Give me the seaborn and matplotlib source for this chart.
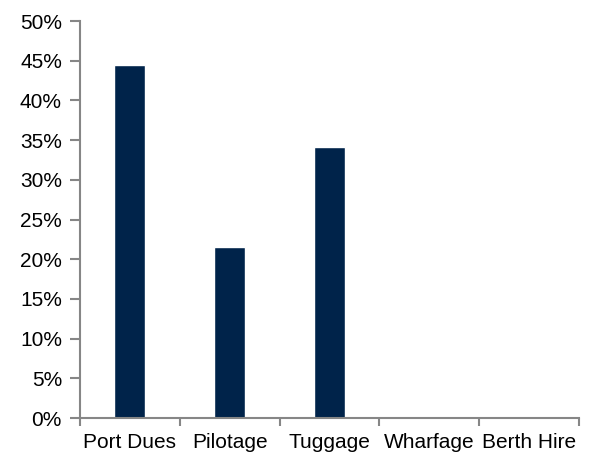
import matplotlib
matplotlib.use("Agg")
import matplotlib.pyplot as plt
import seaborn as sns
import pandas as pd
from matplotlib.ticker import FuncFormatter, MultipleLocator, FixedLocator

categories = ["Port Dues", "Pilotage", "Tuggage", "Wharfage", "Berth Hire"]
shares = [44.4, 21.5, 34.1, 0.0, 0.0]

df = pd.DataFrame({"category": categories, "share": shares})

sns.set_style("white")
plt.rcParams["font.family"] = ["Liberation Sans", "DejaVu Sans"]

fig = plt.figure(figsize=(5.91, 4.59), dpi=100)
ax = fig.add_axes([0.1354, 0.0893, 0.8443, 0.8649])

sns.barplot(data=df, x="category", y="share", color="#00234a",
            width=0.31, saturation=1, ax=ax)

axis_grey = "#868686"
ax.set_ylim(0, 50)
ax.set_xlim(-0.5, len(categories) - 0.5)
ax.yaxis.set_major_locator(MultipleLocator(5))
ax.yaxis.set_major_formatter(FuncFormatter(lambda v, p: f"{v:.0f}%"))

ax.xaxis.set_major_locator(FixedLocator(range(len(categories))))
ax.xaxis.set_minor_locator(FixedLocator([i - 0.5 for i in range(len(categories) + 1)]))
ax.set_xticklabels(categories)

for side in ["top", "right"]:
    ax.spines[side].set_visible(False)
for side in ["left", "bottom"]:
    ax.spines[side].set_color(axis_grey)
    ax.spines[side].set_linewidth(1.5)

ax.tick_params(axis="y", which="major", direction="out", length=7, width=1.5,
               color=axis_grey, labelsize=15, pad=6, left=True, labelcolor="black")
ax.tick_params(axis="x", which="major", length=0, labelsize=15, pad=11,
               labelcolor="black")
ax.tick_params(axis="x", which="minor", direction="out", length=6, width=1.5,
               color=axis_grey, bottom=True)

ax.set_xlabel("")
ax.set_ylabel("")
ax.grid(False)

fig.savefig("out.png", dpi=100)
